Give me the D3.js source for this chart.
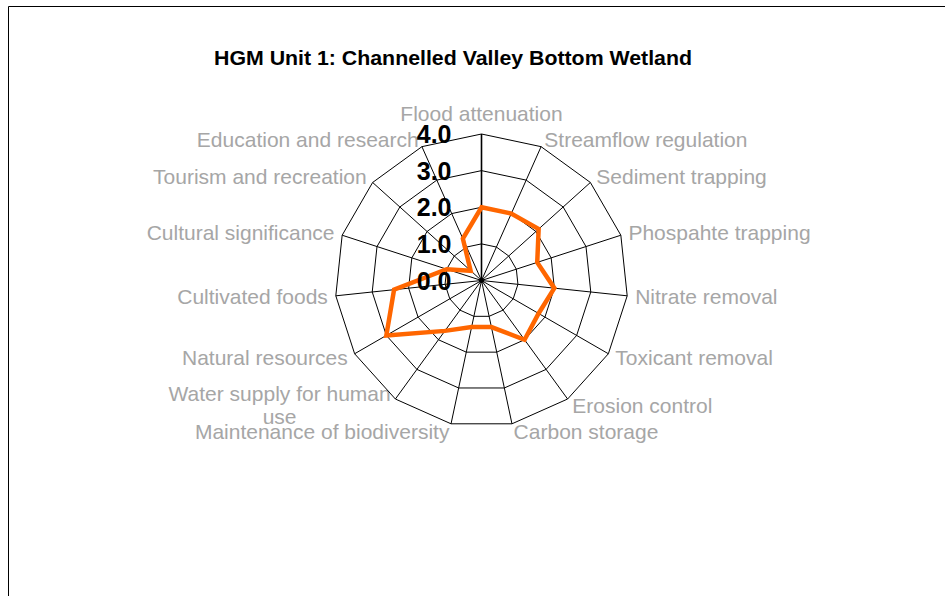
<!DOCTYPE html>
<html>
<head>
<meta charset="utf-8">
<title>HGM Unit 1</title>
<script src="https://d3js.org/d3.v7.min.js"></script>
<style>
    body {
        margin: 0;
        background: #fff;
    }
    .catLabel {
        font-family: 'Liberation Sans', Arial, sans-serif;
        font-size: 21px;
        fill: #a6a6a6;
    }
    .tickLabel {
        font-family: 'Liberation Sans', Arial, sans-serif;
        font-size: 25px;
        font-weight: bold;
        fill: #000;
    }
    .chartTitle {
        font-family: 'Liberation Sans', Arial, sans-serif;
        font-size: 20px;
        font-weight: bold;
    }
</style>
</head>
<body>
    <svg id="radar" width="945" height="596"></svg>
    <script>
        const categories = ["Flood attenuation", "Streamflow regulation", "Sediment trapping",
            "Phospahte trapping", "Nitrate removal", "Toxicant removal", "Erosion control",
            "Carbon storage", "Maintenance of biodiversity", "Water supply for human use",
            "Natural resources", "Cultivated foods", "Cultural significance",
            "Tourism and recreation", "Education and research"];
        const scores = [2.0, 2.0, 2.1, 1.6, 2.0, 1.8, 2.0, 1.3, 1.3, 1.7, 3.0, 2.4, 1.0, 0.4, 1.25];
        const ticks = [0, 1, 2, 3, 4];
        const tickLabels = ["0.0", "1.0", "2.0", "3.0", "4.0"];
        // labels that excel wrapped onto two lines
        const wrapped = {"Water supply for human use": ["Water supply for human", "use"]};

        var svg = d3.select("#radar");
        const cx = 481.5, cy = 280.5, R = 146.5;

        // chart area frame (only left and top edges are visible)
        svg.append("path")
            .attr("d", "M8.5,596V6.5H945")
            .attr("fill", "none")
            .attr("stroke", "#000")
            .attr("stroke-width", 1);

        svg.append("text")
            .attr("class", "chartTitle")
            .attr("x", 453)
            .attr("y", 65)
            .attr("text-anchor", "middle")
            .attr("textLength", 478)
            .attr("lengthAdjust", "spacingAndGlyphs")
            .text("HGM Unit 1: Channelled Valley Bottom Wetland");

        var r = d3.scaleLinear().domain([0, 4]).range([0, R]);
        var angle = d3.scaleLinear().domain([0, categories.length]).range([0, 2 * Math.PI]);

        var g = svg.append("g").attr("transform", "translate(" + cx + "," + cy + ")");

        // category labels
        categories.forEach((c, i) => {
            var a = angle(i);
            var s = Math.sin(a), co = Math.cos(a);
            var px = (R + 8) * s, py = -(R + 8) * co;
            var t = g.append("text").attr("class", "catLabel");
            if (Math.abs(s) < 0.01) {
                t.attr("x", 0).attr("y", -R - 13).attr("text-anchor", "middle").text(c);
                return;
            }
            var anchor = s > 0 ? "start" : "end";
            if (wrapped[c]) {
                var lines = wrapped[c];
                t.attr("text-anchor", "middle");
                lines.forEach((l, j) => {
                    t.append("tspan").attr("x", 0)
                        .attr("y", py + (j - (lines.length - 1) / 2) * 23)
                        .attr("dy", "0.35em").text(l);
                });
                var w = d3.max(t.selectAll("tspan").nodes(), n => n.getComputedTextLength());
                var mid = s > 0 ? px + w / 2 : px - w / 2;
                t.selectAll("tspan").attr("x", mid);
            } else {
                t.attr("x", px).attr("y", py).attr("dy", "0.35em")
                    .attr("text-anchor", anchor).text(c);
            }
        });

        // grid rings
        ticks.slice(1).forEach(v => {
            g.append("path")
                .datum(categories.map(() => v))
                .attr("d", d3.lineRadial()
                    .angle((d, i) => angle(i))
                    .radius(d => r(d))
                    .curve(d3.curveLinearClosed))
                .attr("fill", "none")
                .attr("stroke", "#000")
                .attr("stroke-width", 1);
        });

        // spokes
        g.selectAll(".spoke")
            .data(categories)
            .enter()
            .append("line")
            .attr("class", "spoke")
            .attr("x1", 0).attr("y1", 0)
            .attr("x2", (d, i) => r(4) * Math.sin(angle(i)))
            .attr("y2", (d, i) => -r(4) * Math.cos(angle(i)))
            .attr("stroke", "#000")
            .attr("stroke-width", (d, i) => i === 0 ? 1.6 : 1);

        // series
        g.append("path")
            .datum(scores)
            .attr("d", d3.lineRadial()
                .angle((d, i) => angle(i))
                .radius(d => r(d))
                .curve(d3.curveLinearClosed))
            .attr("fill", "none")
            .attr("stroke", "#ff6600")
            .attr("stroke-width", 4.5)
            .attr("stroke-linejoin", "miter");

        g.append("circle").attr("r", 2.5).attr("fill", "#000");

        // value axis labels
        g.selectAll(".tickLabel")
            .data(ticks)
            .enter()
            .append("text")
            .attr("class", "tickLabel")
            .attr("x", -30)
            .attr("y", d => -r(d))
            .attr("dy", "0.36em")
            .attr("text-anchor", "end")
            .text((d, i) => tickLabels[i]);
    </script>
</body>
</html>
